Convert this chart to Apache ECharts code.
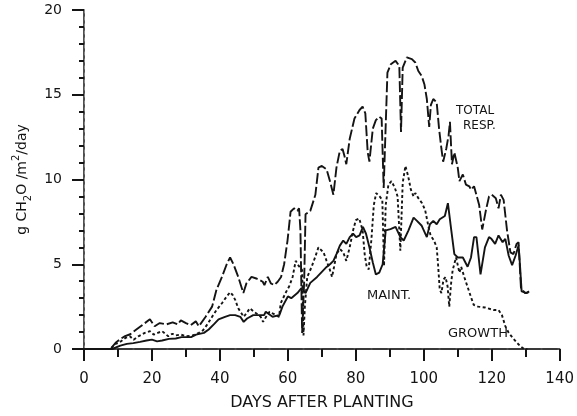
<!DOCTYPE html>
<html>
<head>
<meta charset="utf-8">
<script src="https://cdn.jsdelivr.net/npm/echarts@6/dist/echarts.min.js"></script>
<style>
  html, body { margin: 0; padding: 0; background: #fff; }
  #chart { width: 577px; height: 416px; }
</style>
</head>
<body>
<div id="chart"></div>
<script>
// [day, g CH2O/m2/day]
const totalResp = [
  [0,0],[7.8,0],[9.3,0.37],[10.8,0.6],[12.1,0.76],[13.6,0.87],[15.5,1.16],[17.4,1.45],[19.4,1.75],
  [20.8,1.34],[22.3,1.53],[24.2,1.45],[26.1,1.57],[27.6,1.45],[28.5,1.69],[30,1.53],[31.4,1.4],
  [32.9,1.63],[33.8,1.34],[35.8,1.9],[37.7,2.5],[39,3.5],[40.6,4.25],[42,5.0],[43,5.4],[44,5.0],
  [45.4,4.25],[46.9,3.3],[47.8,3.87],[49.3,4.25],[50.7,4.16],[51.7,4.07],[52.6,3.97],[53.1,3.77],
  [54.1,4.25],[55,3.87],[56,3.77],[57,3.97],[58,4.25],[58.9,5.0],[59.9,6.4],[60.8,8.1],[61.8,8.3],
  [62.8,8.15],[63.3,8.3],[63.7,7.0],[64.2,0.95],[64.8,4.0],[65.2,7.95],[66.6,8.15],[68.1,9.1],
  [69,10.7],[70,10.8],[71.4,10.6],[72.4,9.9],[73.4,9.1],[74.3,10.7],[75.3,11.7],[76.1,11.8],
  [76.7,11.35],[77.2,10.9],[78.2,12.4],[79.6,13.6],[81.1,14.1],[82,14.3],[82.8,13.9],[83.5,11.6],
  [84,11.05],[85,13],[85.9,13.5],[86.9,13.7],[87.6,13.6],[88.2,9.5],[88.6,12],[89.3,16.3],
  [90.3,16.8],[91.7,17.0],[92.8,16.7],[93.3,12.8],[93.8,16.6],[95,17.2],[96.5,17.1],[97.5,16.9],
  [98.4,16.4],[99.4,16.1],[100.2,15.6],[100.9,14.75],[101.6,13.1],[102.1,14.4],[102.8,14.75],
  [103.8,14.55],[104.5,13.0],[105.2,11.8],[105.7,11.05],[106.6,11.8],[107.3,12.6],[107.7,13.4],
  [108.3,10.9],[109,11.6],[110,10.7],[110.5,9.9],[111.5,10.3],[112.4,9.7],[113.4,9.6],[113.9,9.4],
  [114.8,9.6],[116.3,8.5],[117.2,7.05],[118.3,8.2],[119.2,9.0],[120,9.1],[121.2,8.9],[122,8.3],
  [122.7,9.1],[123.5,8.8],[124.5,7.0],[125.5,5.7],[126.4,5.6],[127.3,6.2],[127.9,6.3],[128.6,3.6],
  [129.8,3.3],[130.8,3.35]
];

const maint = [
  [0,0],[8.3,0],[10.7,0.2],[12.6,0.3],[14.5,0.35],[16.5,0.42],[18.4,0.5],[20,0.55],[21.5,0.45],
  [23,0.5],[25,0.6],[27,0.62],[28.7,0.7],[31.5,0.7],[33,0.85],[35.3,0.95],[36.7,1.15],[38.2,1.45],
  [39.6,1.75],[41.5,1.9],[43,2.0],[44.5,2.0],[46,1.9],[47,1.6],[48,1.8],[49.8,2.0],[51.5,2.0],
  [53,2.0],[53.5,2.2],[54.5,2.05],[55.5,1.9],[57.5,2.0],[58.4,2.5],[60,3.1],[61,3.0],[62.8,3.3],
  [64,3.6],[65.2,3.3],[66.6,3.9],[68.6,4.25],[70,4.55],[71.4,4.84],[72.4,5.0],[73.4,5.2],[74.3,5.6],
  [75.3,6.1],[76.3,6.4],[77.2,6.2],[78.2,6.6],[79.2,6.8],[80.1,6.6],[81.1,6.7],[82.1,7.2],[83,6.8],
  [84,6.0],[85,5.1],[85.9,4.4],[86.9,4.5],[87.9,5.0],[88.8,7.0],[90.2,7.07],[91.7,7.2],[93.1,6.6],
  [94.1,6.4],[95.5,7.0],[97,7.75],[98,7.56],[99.4,7.27],[100.9,6.6],[101.8,7.36],[102.8,7.56],
  [103.8,7.36],[104.7,7.65],[106.2,7.85],[107.1,8.6],[108.1,7.0],[109,5.6],[110,5.4],[111.5,5.4],
  [112.9,4.85],[113.9,5.4],[114.8,6.6],[115.5,6.6],[116.7,4.4],[118,6.0],[119.2,6.6],[119.9,6.5],
  [121,6.2],[122,6.7],[123.2,6.3],[124,6.5],[125,5.5],[126,4.95],[127,5.5],[127.9,6.1],[128.3,5.0],
  [128.8,3.4],[130.3,3.3],[131,3.4]
];

const growth = [
  [0,0],[7.8,0],[9.3,0.3],[10.5,0.4],[12.2,0.65],[13.5,0.75],[14.6,0.55],[16,0.75],[17.9,0.95],
  [19.4,1.05],[20.5,0.85],[21.7,0.95],[23,1.05],[24.8,0.75],[26,0.9],[27,0.8],[28.5,0.85],[30,0.75],
  [32,0.8],[33.8,0.95],[35,1.1],[36.3,1.45],[37.7,1.9],[39,2.3],[40.6,2.7],[42,3.1],[43,3.35],
  [43.7,3.2],[44.5,2.9],[45.4,2.4],[47,1.9],[47.8,2.1],[48.8,2.4],[50,2.2],[51.4,2.0],[52,1.9],
  [52.7,1.6],[53.6,1.9],[54.6,2.2],[55.5,2.1],[57.4,1.9],[57.9,2.7],[59.3,3.3],[60.4,3.7],
  [61.4,4.25],[62.3,5.2],[63.2,4.9],[64.2,4.65],[64.6,0.8],[65,2.5],[65.7,4.25],[67,4.85],[68,5.4],
  [69,6.0],[69.5,6.1],[70.5,5.7],[71.4,5.2],[72.4,4.65],[73,4.25],[73.6,4.85],[74.3,5.6],[75.3,5.9],
  [76.3,5.7],[77.2,5.2],[78.2,6.0],[79.2,7.0],[80,7.6],[81,7.7],[82,7.0],[82.6,5.6],[83.2,4.85],
  [83.8,4.7],[84.6,6.5],[85.3,8.5],[86,9.2],[87,9.0],[87.8,8.8],[88.3,4.9],[88.8,8.5],[89.6,9.7],
  [90.5,9.9],[91.5,9.5],[92.3,9.0],[93.1,5.8],[93.8,9.8],[94.6,10.8],[95.4,10.2],[96.2,9.4],[97,9.0],
  [97.5,9.2],[98.4,8.9],[99.5,8.6],[100.4,8.2],[101.3,7.3],[102,6.7],[103,6.4],[103.8,6.0],
  [104.2,5.0],[104.7,3.5],[105.2,3.3],[105.8,4.1],[106.4,4.25],[107,3.7],[107.5,2.5],[108,3.8],
  [108.5,4.65],[109.5,5.4],[110.5,4.5],[111,4.85],[112,4.2],[113,3.6],[114,3.0],[114.7,2.6],
  [116,2.5],[118,2.45],[120.5,2.3],[122,2.3],[123,2.0],[124,1.35],[125,0.95],[126.4,0.6],
  [127.5,0.35],[128.5,0.15],[129.5,0],[130.5,0]
];

const xTicks = { min: 0, max: 140, step: 20 };
const yTicks = { min: 0, max: 20, step: 5 };

const ink = '#141414';
const font = 'DejaVu Sans';

var myChart = echarts.init(document.getElementById('chart'));

function lineSeries(name, data, type) {
  return {
    name: name,
    type: 'line',
    data: data,
    symbol: 'none',
    smooth: false,
    animation: false,
    lineStyle: { color: ink, width: 1.9, type: type }
  };
}

myChart.setOption({
  backgroundColor: '#fff',
  animation: false,
  grid: { left: 84, right: 10, top: 10, bottom: 63 },
  xAxis: [{
    type: 'value',
    min: xTicks.min, max: xTicks.max, interval: xTicks.step,
    name: 'DAYS AFTER PLANTING',
    nameLocation: 'middle',
    nameGap: 46,
    nameTextStyle: { fontFamily: font, fontSize: 16, color: ink },
    axisLine: { show: true, onZero: false, lineStyle: { color: ink, width: 1.5 } },
    axisTick: { show: true, length: 12, lineStyle: { color: ink, width: 2 } },
    minorTick: { show: true, splitNumber: 2, length: 8, lineStyle: { color: ink, width: 2 } },
    axisLabel: { margin: 23, fontFamily: font, fontSize: 15, color: ink },
    splitLine: { show: false }
  }, {
    type: 'value', position: 'top',
    min: xTicks.min, max: xTicks.max,
    axisLine: { show: true, lineStyle: { color: '#333', width: 1.5, type: [14, 3] } },
    axisTick: { show: false }, axisLabel: { show: false }, splitLine: { show: false }
  }],
  yAxis: [{
    type: 'value',
    min: yTicks.min, max: yTicks.max, interval: yTicks.step,
    name: '{n|g CH}{s|2}{n|O /m}{p|2}{n|/day}',
    nameLocation: 'middle',
    nameRotate: 90,
    nameGap: 48,
    nameTextStyle: {
      fontFamily: font, color: ink,
      rich: {
        n: { fontFamily: font, fontSize: 14, color: ink, lineHeight: 22, verticalAlign: 'middle' },
        s: { fontFamily: font, fontSize: 10, color: ink, lineHeight: 22, verticalAlign: 'bottom' },
        p: { fontFamily: font, fontSize: 10, color: ink, lineHeight: 22, verticalAlign: 'top' }
      }
    },
    axisLine: { show: true, onZero: false, lineStyle: { color: ink, width: 1.5 } },
    axisTick: { show: true, length: 12, lineStyle: { color: ink, width: 2 } },
    minorTick: { show: true, splitNumber: 5, length: 5, lineStyle: { color: ink, width: 2 } },
    axisLabel: { margin: 22, fontFamily: font, fontSize: 14, color: ink },
    splitLine: { show: false }
  }, {
    type: 'value', position: 'right',
    min: yTicks.min, max: yTicks.max,
    axisLine: { show: true, lineStyle: { color: '#888', width: 1, type: [3, 4] } },
    axisTick: { show: false }, axisLabel: { show: false }, splitLine: { show: false }
  }],
  series: [
    lineSeries('TOTAL RESP.', totalResp, [11, 3]),
    lineSeries('MAINT.', maint, 'solid'),
    lineSeries('GROWTH', growth, [3, 2.5])
  ],
  graphic: [
    { type: 'text', left: 456, top: 105, style: { text: 'TOTAL', font: '12px "DejaVu Sans"', fill: ink } },
    { type: 'text', left: 463, top: 120, style: { text: 'RESP.', font: '12px "DejaVu Sans"', fill: ink } },
    { type: 'text', left: 367, top: 289, style: { text: 'MAINT.', font: '13px "DejaVu Sans"', fill: ink } },
    { type: 'text', left: 448, top: 327, style: { text: 'GROWTH', font: '13px "DejaVu Sans"', fill: ink } }
  ]
});
</script>
</body>
</html>
